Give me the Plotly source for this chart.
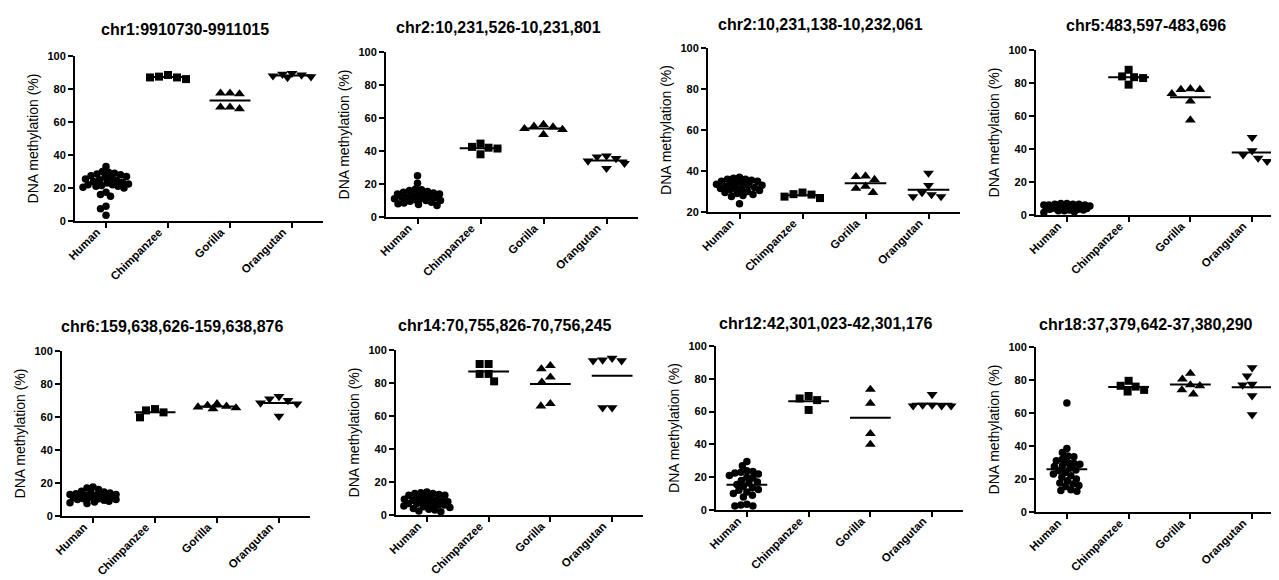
import numpy as np
import plotly.graph_objects as go

# ---------------- data ----------------
categories = ["Human", "Chimpanzee", "Gorilla", "Orangutan"]
titles = [
    "chr1:9910730-9911015",
    "chr2:10,231,526-10,231,801",
    "chr2:10,231,138-10,232,061",
    "chr5:483,597-483,696",
    "chr6:159,638,626-159,638,876",
    "chr14:70,755,826-70,756,245",
    "chr12:42,301,023-42,301,176",
    "chr18:37,379,642-37,380,290",
]
y_tick_vals_full = [0, 20, 40, 60, 80, 100]
y_tick_vals_20 = [20, 40, 60, 80, 100]

h1 = [33, 30, 29.5, 29, 28.5, 28, 27.5, 27, 26.5, 26, 25.5, 25, 24.5, 24, 23.5, 23, 22.5, 22, 21.5, 21, 20.5, 20, 21, 22, 17.5, 16, 15, 9, 7.5, 3.5]
c1 = [88.5, 87, 86, 87, 87.5]
g1 = [77.5, 77, 77.5, 69, 68, 69]
o1 = [89, 88.5, 87.5, 87, 88, 89.5]

h2 = [25, 20.5, 17, 16.5, 16, 15.5, 15, 14.5, 14, 14, 13.5, 13, 13, 12.5, 12, 12, 11.5, 11, 11, 10.5, 10, 10, 9.5, 9, 8.5, 8, 7.5, 7]
c2 = [41.5, 38, 44.5, 42, 42.5]
g2 = [55, 53.5, 56, 50, 53, 54.5]
o2 = [37, 29.5, 36.5, 32.5, 35.5, 34]

h3 = [37, 36.5, 36, 36, 35.5, 35, 35, 34.5, 34, 34, 33.5, 33, 33, 32.5, 32, 32, 31.5, 31, 31, 30.5, 30, 29.5, 29, 28.5, 28, 27.5, 24]
c3 = [29.5, 28.5, 26.8, 27.5, 28.7]
g3 = [37.2, 35.8, 37.5, 32.5, 29.5, 31.5]
o3 = [39, 33, 27.5, 27.5, 28.5, 29.5]

h4 = [7, 7, 6.5, 6.5, 6.5, 6, 6, 6, 5.5, 5.5, 5.5, 5, 5, 5, 5, 4.5, 4.5, 4.5, 4, 4, 4, 3.5, 3.5, 3, 3, 2.5, 2.5, 2, 1.5]
c4 = [83, 79, 88, 83.5, 84]
g4 = [76, 73.5, 76, 69, 76.5, 57.5]
o4 = [47, 39, 36.5, 32.5, 34.5]

h5 = [17.5, 17, 16, 15, 14.5, 14, 14, 13.5, 13, 13, 12.5, 12.5, 12, 12, 12, 11.5, 11.5, 11, 11, 10.5, 10.5, 10, 10, 9.5, 9, 8.5, 8, 7.5]
c5 = [64, 59.8, 62.8, 64.8]
g5 = [68, 66, 65, 65.5, 66.5, 67]
o5 = [71, 68.5, 68, 60.5, 70, 72.5]

h6 = [14, 13.5, 13, 13, 12.5, 12, 12, 11, 10.5, 10, 9.5, 9, 9, 8.5, 8, 8, 7.5, 7, 7, 6.5, 6, 6, 5.5, 5, 4.5, 4, 3.5, 3, 2.5, 2]
c6 = [91.5, 91.5, 85.5, 81, 85.5]
g6 = [88.5, 90.5, 83.5, 80.5, 66, 67.5]
o6 = [95, 93.5, 93.5, 94, 65, 65]

h7 = [29.5, 27, 24, 23.5, 23, 22.5, 22, 21, 20, 19.5, 18, 17, 16.5, 15.5, 14.5, 13.5, 12.5, 12, 11, 10, 9, 8, 3.5, 3, 2.5, 2.5]
c7 = [69.5, 67, 68, 61]
g7 = [73.5, 65, 46.5, 40]
o7 = [70.5, 64, 63.5, 63.5, 63.5, 64]

h8 = [66, 38.5, 36, 34, 33.5, 32, 31, 30, 29.5, 29, 28, 27.5, 26.5, 25.5, 25, 24, 23, 22, 21, 20, 19, 17.5, 17, 16, 15.5, 13.5, 13, 12.5]
c8 = [76, 73, 79.5, 74, 76.5]
g8 = [84, 76.5, 71.5, 80.5, 74, 77]
o8 = [82.5, 87.5, 77, 70.5, 77.5, 59]

panels = [
    (h1, c1, g1, o1), (h2, c2, g2, o2), (h3, c3, g3, o3), (h4, c4, g4, o4),
    (h5, c5, g5, o5), (h6, c6, g6, o6), (h7, c7, g7, o7), (h8, c8, g8, o8),
]
y_min = [0, 0, 20, 0, 0, 0, 0, 0]

# ---------------- layout geometry (pixels) ----------------
W, H = 1279, 580
# (left, right, top, bottom) of each plot area
geo = [
    (67, 315, 48, 213), (378, 630, 44, 209), (700, 952, 40, 204), (1028, 1275, 42, 207),
    (54, 302, 343, 508), (388, 635, 342, 507), (708, 955, 338, 502), (1028, 1275, 339, 504),
]
title_y = [22, 20, 16, 18, 318, 317, 315, 316]
title_dx = -14

symbols = ["circle", "square", "triangle-up", "triangle-down"]
sizes = [7.5, 8, 9.5, 9.5]
swarm_diam = [6.0, 9.0, 9.5, 9.5]
swarm_cap = [23, 22, 22, 22]
FONT = "Liberation Sans, Arial, sans-serif"


def swarm(values, ypx, diam, cap, step=0.5):
    """Beeswarm offsets (px) limited to +-cap, overlaps allowed when full."""
    vals = np.asarray(values, float)
    order = np.argsort(-vals)
    cands = np.arange(-cap, cap + step / 2, step)
    placed_x, placed_y = [], []
    off = np.zeros(len(vals))
    for i in order:
        y = vals[i] * ypx
        if not placed_x:
            best = 0.0
        else:
            px = np.array(placed_x)[None, :]
            py = np.array(placed_y)[None, :]
            d = np.sqrt((cands[:, None] - px) ** 2 + (y - py) ** 2).min(axis=1)
            ok = d >= diam
            if ok.any():
                c_ok = cands[ok]
                score = np.abs(c_ok) + 0.01 * (c_ok > 0)
                best = c_ok[np.argmin(score)]
            else:
                best = cands[np.argmax(d - 0.02 * np.abs(cands))]
        off[i] = best
        placed_x.append(best)
        placed_y.append(y)
    return off


fig = go.Figure()
annotations = []
for p, (groups, (l, r, t, b)) in enumerate(zip(panels, geo)):
    n = p + 1
    xa = "x" if n == 1 else f"x{n}"
    ya = "y" if n == 1 else f"y{n}"
    ymin = y_min[p]
    ypx = (b - t) / (100 - ymin)
    xpx = (r - l) / 4.0
    for gi, vals in enumerate(groups):
        off = swarm(vals, ypx, swarm_diam[gi], swarm_cap[gi]) / xpx
        xs = gi + off
        fig.add_trace(go.Scatter(
            x=xs, y=vals, mode="markers", xaxis=xa, yaxis=ya,
            marker=dict(symbol=symbols[gi], size=sizes[gi], color="black",
                        line=dict(width=0)),
            showlegend=False, cliponaxis=False, hoverinfo="y"))
        m = float(np.mean(vals))
        fig.add_trace(go.Scatter(
            x=[gi - 0.33, gi + 0.33], y=[m, m], mode="lines", xaxis=xa, yaxis=ya,
            line=dict(color="black", width=2), showlegend=False, hoverinfo="skip"))

    xkey = "xaxis" if n == 1 else f"xaxis{n}"
    ykey = "yaxis" if n == 1 else f"yaxis{n}"
    fig.update_layout({
        xkey: dict(
            domain=[l / W, r / W], anchor=ya, range=[-0.5, 3.5], automargin=False,
            tickmode="array", tickvals=[0, 1, 2, 3], ticktext=categories,
            tickangle=-45, ticks="outside", ticklen=5, tickwidth=2, tickcolor="black",
            ticklabelshift=-9, ticklabelstandoff=-7,
            showline=True, linecolor="black", linewidth=2, showgrid=False, zeroline=False,
            tickfont=dict(family=FONT, size=11.5, color="black", weight="bold"),
            fixedrange=True),
        ykey: dict(
            domain=[1 - b / H, 1 - t / H], anchor=xa, range=[ymin, 100], automargin=False,
            tickmode="array", tickvals=y_tick_vals_20 if ymin == 20 else y_tick_vals_full,
            ticks="outside", ticklen=5, tickwidth=2, tickcolor="black",
            showline=True, linecolor="black", linewidth=2, showgrid=False, zeroline=False,
            tickfont=dict(family=FONT, size=11, color="black", weight="bold"),
            title=dict(text="DNA methylation (%)", standoff=6,
                       font=dict(family=FONT, size=14, color="black")),
            fixedrange=True),
    })
    annotations.append(dict(
        text=titles[p], x=((l + r) / 2 + title_dx) / W, y=1 - title_y[p] / H,
        xref="paper", yref="paper",
        xanchor="center", yanchor="middle", showarrow=False,
        font=dict(family=FONT, size=16, color="black", weight="bold")))

fig.update_layout(
    width=W, height=H, margin=dict(l=0, r=0, t=0, b=0, autoexpand=False),
    paper_bgcolor="white", plot_bgcolor="white",
    annotations=annotations, showlegend=False,
)
fig.write_html("out.html")
